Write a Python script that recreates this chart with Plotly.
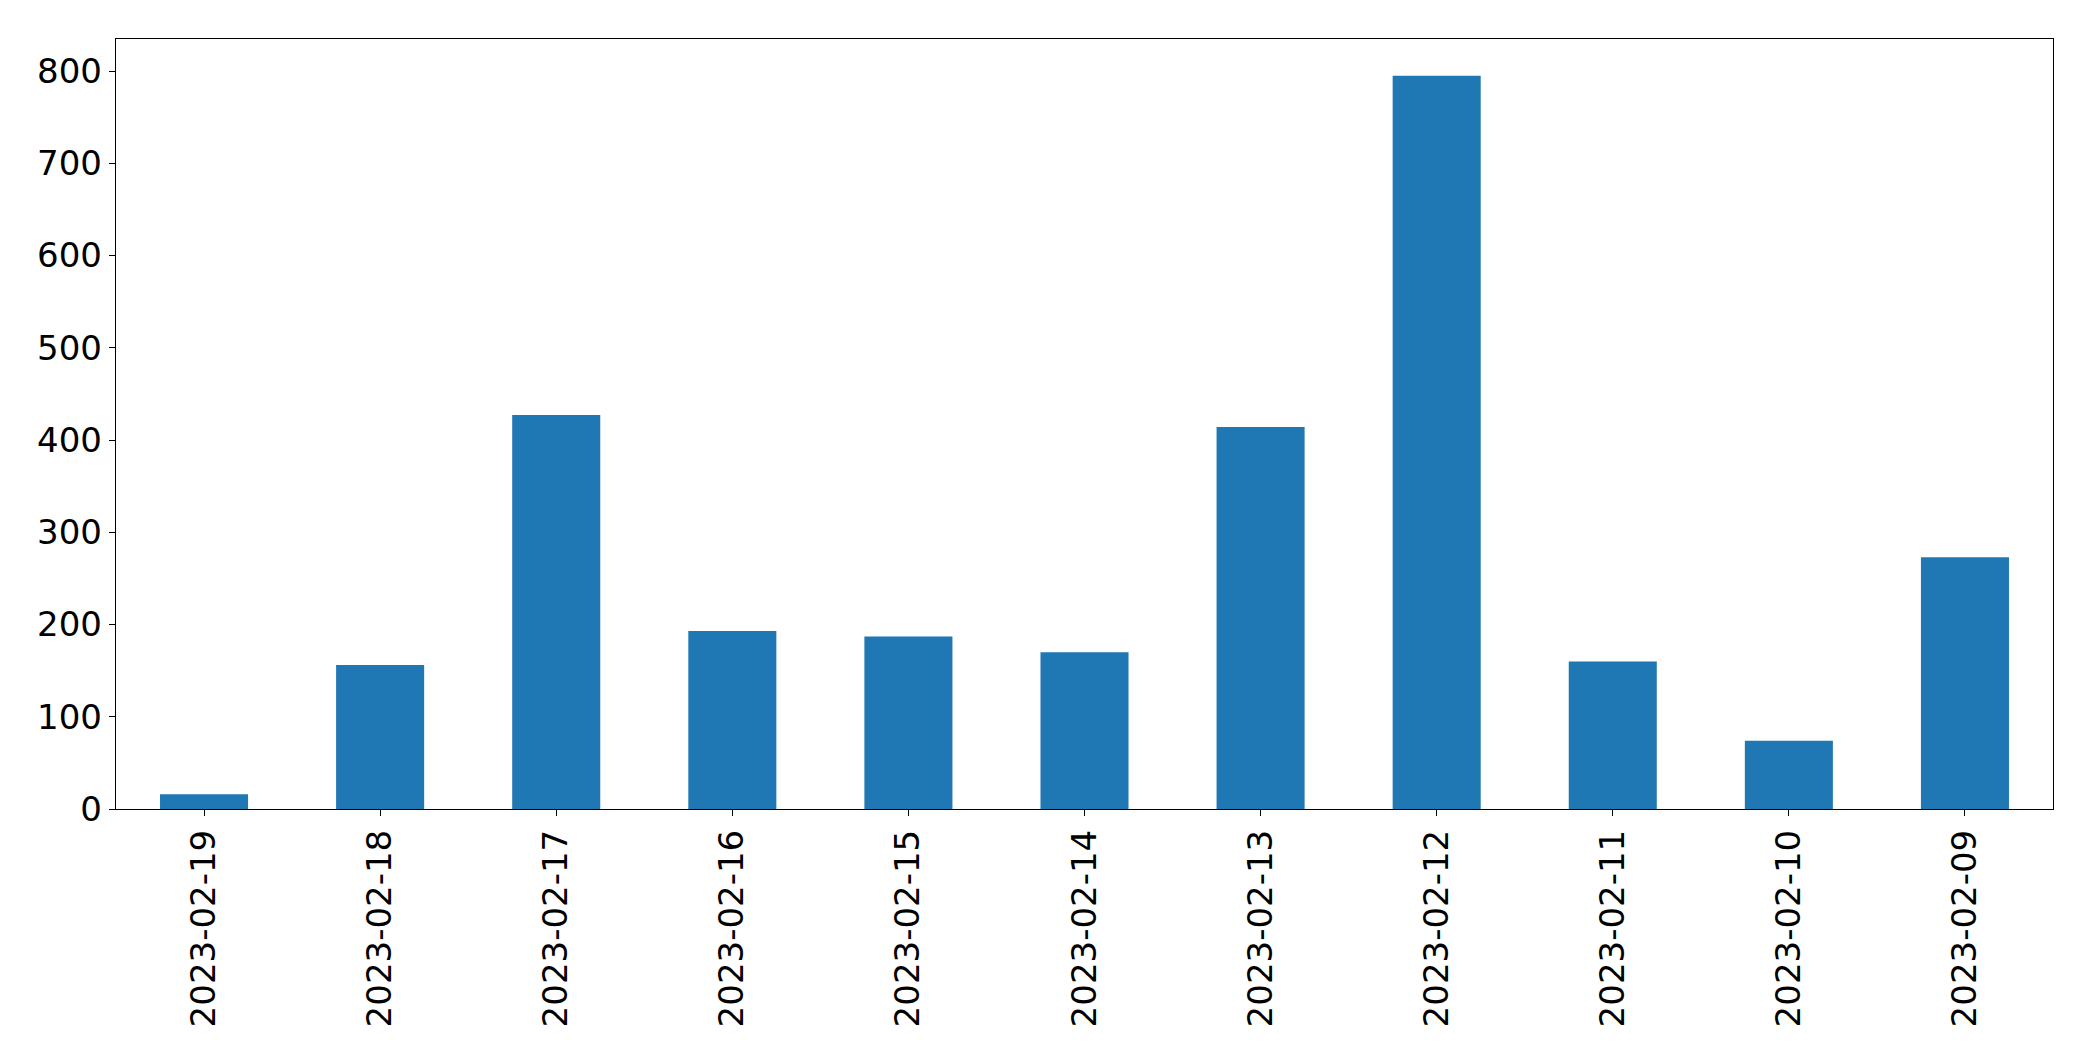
import plotly.graph_objects as go

dates = ["2023-02-19", "2023-02-18", "2023-02-17", "2023-02-16", "2023-02-15",
         "2023-02-14", "2023-02-13", "2023-02-12", "2023-02-11", "2023-02-10",
         "2023-02-09"]
counts = [16, 156, 427, 193, 187, 170, 414, 795, 160, 74, 273]
y_ticks = [0, 100, 200, 300, 400, 500, 600, 700, 800]

fig = go.Figure(go.Bar(x=dates, y=counts, width=0.5, marker_color="#1f77b4",
                       marker_line_width=0))

font = dict(family="DejaVu Sans", size=34, color="black")
axis_common = dict(showline=True, linecolor="black", linewidth=1.4, mirror=True,
                   ticks="outside", ticklen=6, tickwidth=1.4, tickcolor="black",
                   showgrid=False, zeroline=False, tickfont=font)

fig.update_layout(
    width=2085, height=1053,
    margin=dict(l=108, r=40, t=31, b=252),
    paper_bgcolor="white", plot_bgcolor="white",
    showlegend=False,
    xaxis=dict(type="category", range=[-0.5, len(dates) - 0.5], tickangle=-90,
               **axis_common),
    yaxis=dict(range=[0, max(counts) * 1.05], tickmode="array", tickvals=y_ticks,
               ticktext=[str(v) for v in y_ticks], **axis_common),
)

fig.write_html("out.html")
